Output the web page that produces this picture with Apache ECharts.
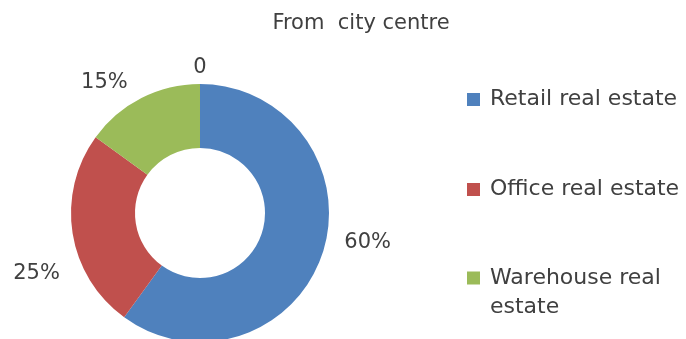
<!DOCTYPE html>
<html>
<head>
<meta charset="utf-8">
<script src="https://cdn.jsdelivr.net/npm/echarts@6/dist/echarts.min.js"></script>
<style>
html,body{margin:0;padding:0;background:#fff;}
#chart{width:686px;height:339px;}
</style>
</head>
<body>
<div id="chart"></div>
<script>
const titleText = 'From  city centre';
const categories = ['Retail real estate', 'Office real estate', 'Warehouse real estate', ''];
const values = [60, 25, 15, 0];
const labelTexts = ['60%', '25%', '15%', '0'];
const colors = ['#4F81BD', '#C0504D', '#9BBB59', '#8064A2'];

const FONT = 'DejaVu Sans';
const TXT = '#404040';

// label offsets (relative to ECharts' outer-arc anchor), kept out of the data arrays
const labelShift = [[45, -10], [-36, 40], [-37, -16], [0, -16]];

const chart = echarts.init(document.getElementById('chart'), null, {renderer: 'canvas'});

function legendFor(name, top) {
  return {
    orient: 'vertical',
    left: 467,
    top: top,
    padding: 0,
    itemWidth: 13,
    itemHeight: 13,
    selectedMode: false,
    icon: 'rect',
    // the wrapped item gets an empty leading line so its first line sits level with the square
    formatter: function (n) { return n === 'Warehouse real estate' ? '\nWarehouse real\nestate' : n; },
    textStyle: {
      fontFamily: FONT, fontSize: 22, color: TXT, lineHeight: 29,
      padding: [0, 0, 0, 5]
    },
    data: [name]
  };
}

const option = {
  animation: false,
  backgroundColor: '#ffffff',
  title: {
    text: titleText,
    left: 361,
    textAlign: 'center',
    top: 13,
    padding: 0,
    textStyle: {fontFamily: FONT, fontSize: 21, fontWeight: 'normal', color: TXT}
  },
  legend: [
    legendFor(categories[0], 85),
    legendFor(categories[1], 175),
    legendFor(categories[2], 234.5)
  ],
  series: [{
    type: 'pie',
    center: [200, 213],
    radius: [65, 129],
    startAngle: 90,
    clockwise: true,
    avoidLabelOverlap: false,
    silent: true,
    emphasis: {disabled: true},
    itemStyle: {borderWidth: 0},
    label: {
      show: true,
      position: 'outside',
      distanceToLabelLine: 0,
      fontFamily: FONT,
      fontSize: 21,
      color: TXT,
      formatter: function (p) { return labelTexts[p.dataIndex]; }
    },
    labelLine: {show: false, length: 0, length2: 0},
    labelLayout: function (p) {
      const s = labelShift[p.dataIndex];
      return {align: 'center', verticalAlign: 'middle', dx: s[0], dy: s[1]};
    },
    data: categories.map(function (c, i) {
      return {name: c, value: values[i], itemStyle: {color: colors[i]}};
    })
  }]
};
chart.setOption(option);
</script>
</body>
</html>
